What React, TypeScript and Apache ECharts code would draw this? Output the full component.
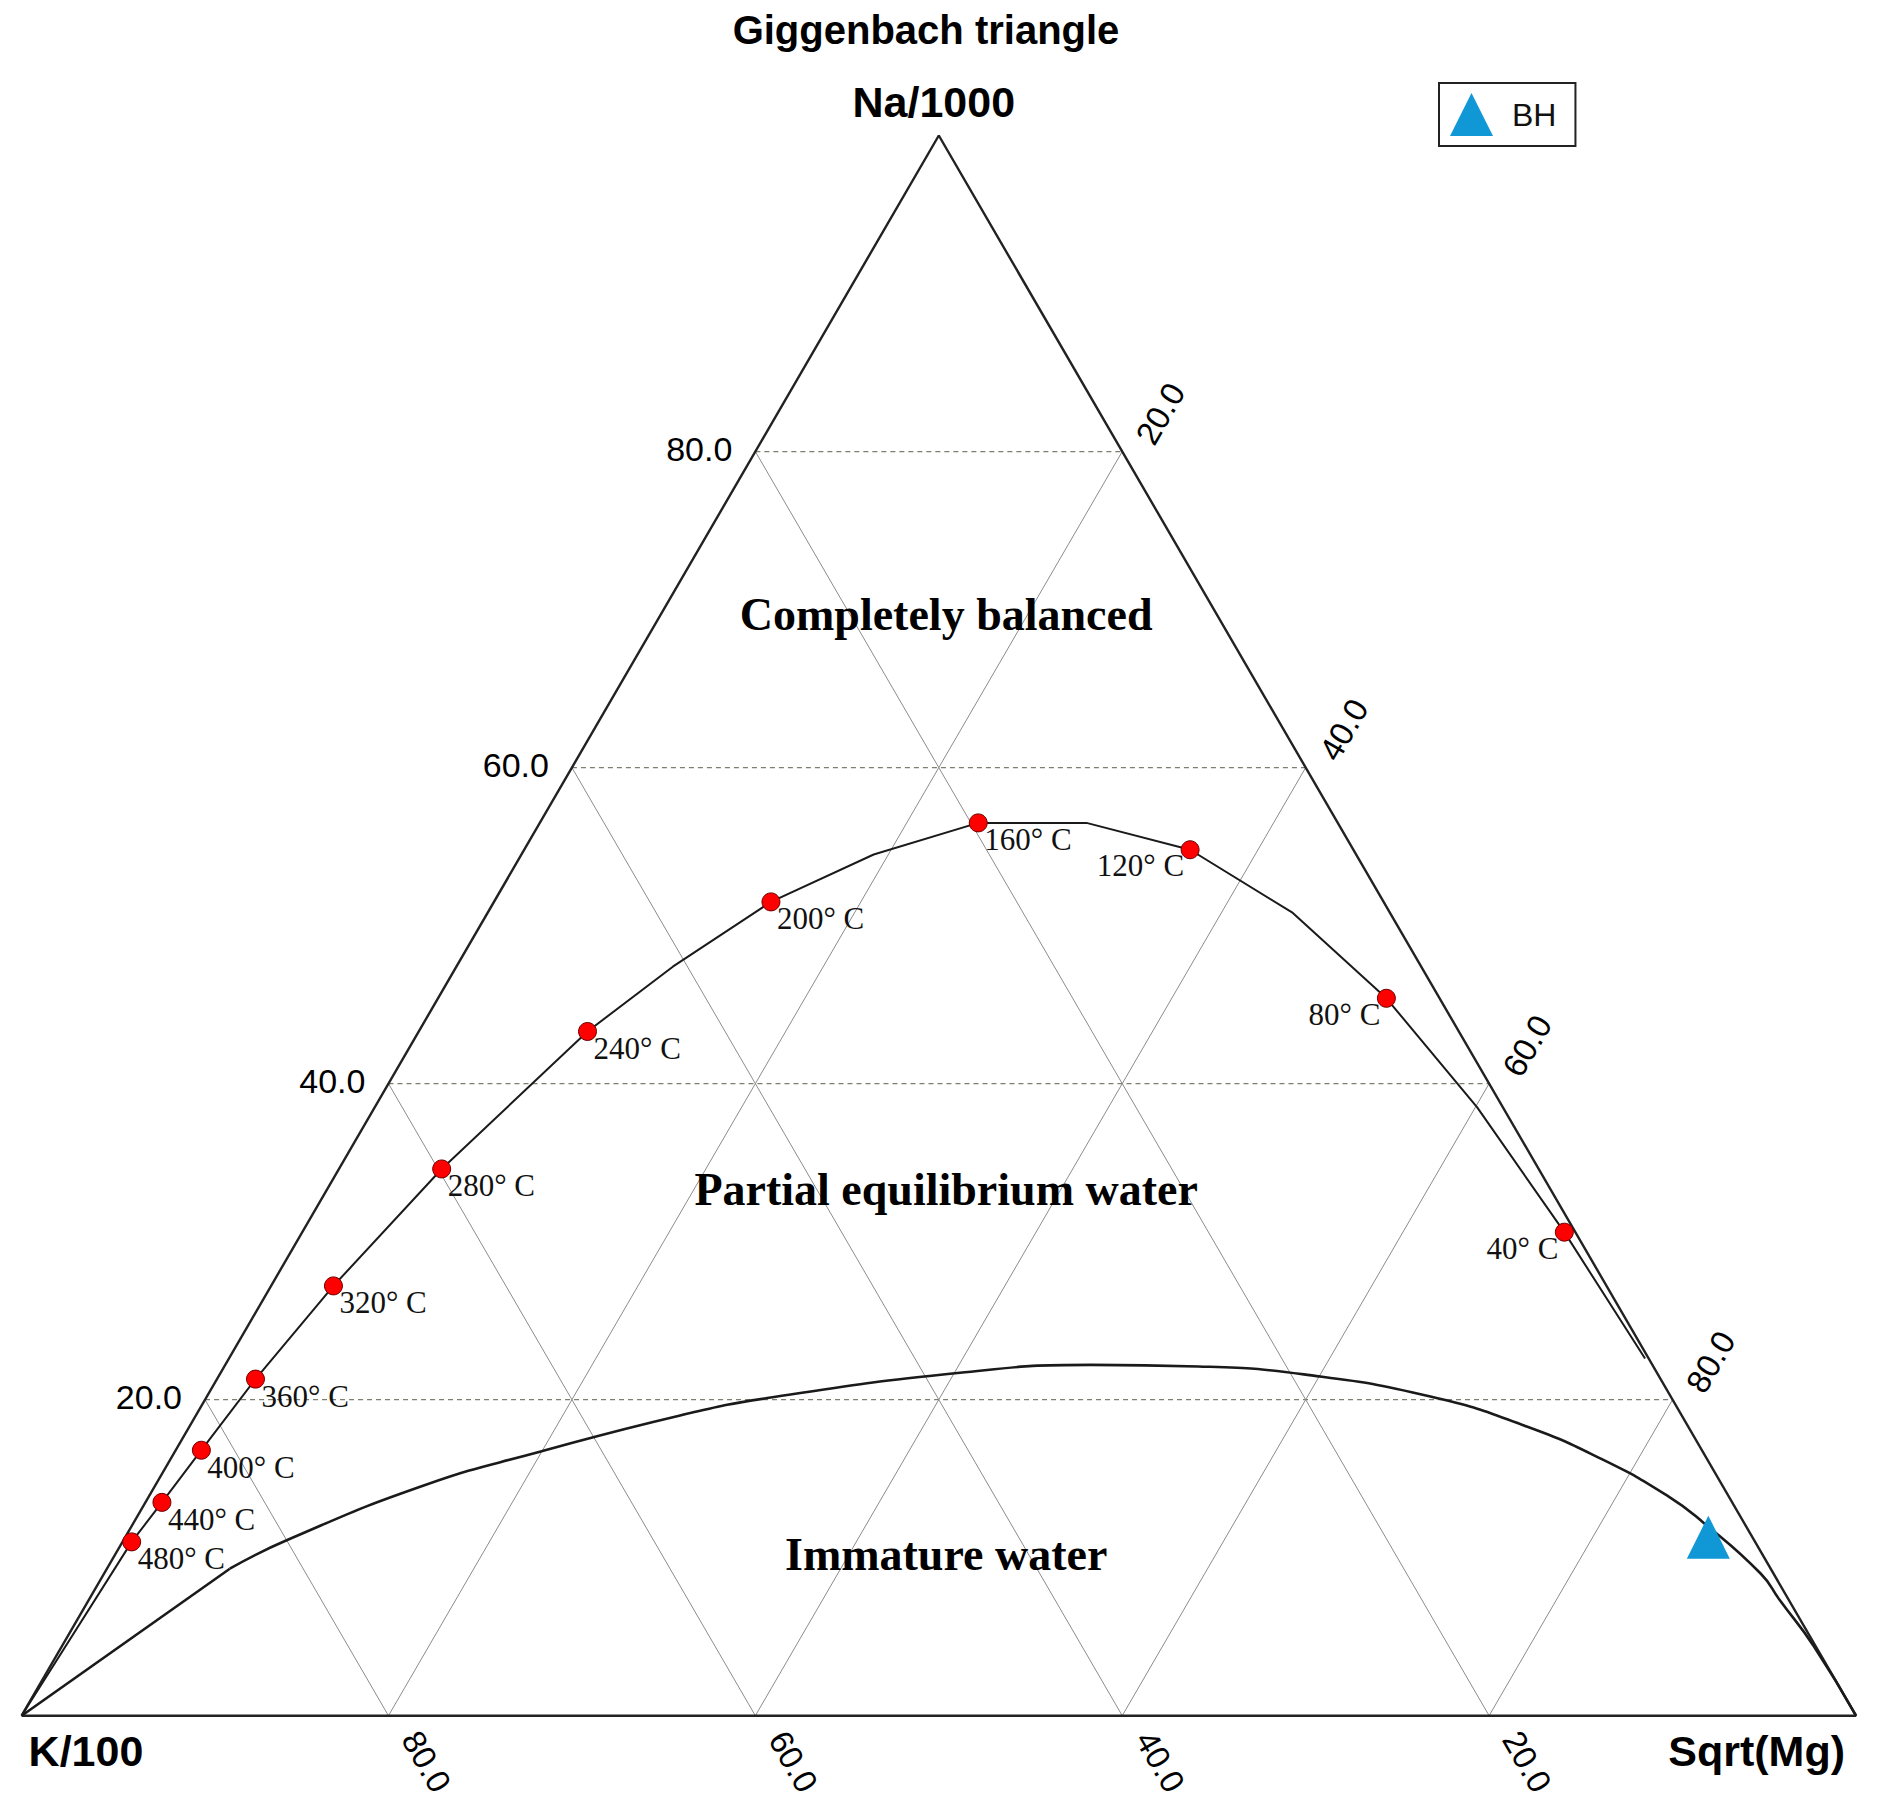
import React, { useEffect, useRef } from "react";
import * as echarts from "echarts";

// Ternary points are [Na/1000, K/100, Sqrt(Mg)] in percent
const triangleVertices: number[][] = [
  [0, 100, 0],
  [100, 0, 0],
  [0, 0, 100],
  [0, 100, 0],
];

const gridValues = [20, 40, 60, 80];
const tickLabels = ["20.0", "40.0", "60.0", "80.0"];

// full equilibrium line (with its bends)
const equilibriumCurve: number[][] = [
  [0, 100, 0],
  [11.0, 88.5, 0.5],
  [13.5, 85.6, 0.9],
  [16.8, 81.8, 1.4],
  [21.3, 76.6, 2.1],
  [27.2, 69.4, 3.4],
  [34.6, 59.8, 5.6],
  [43.3, 47.5, 9.2],
  [47.4, 40.8, 11.8],
  [51.5, 33.4, 15.1],
  [54.5, 26.3, 19.2],
  [56.5, 19.6, 23.9],
  [56.5, 13.7, 29.8],
  [54.8, 8.9, 36.3],
  [50.8, 5.3, 43.9],
  [45.4, 2.9, 51.7],
  [38.5, 1.4, 60.1],
  [30.6, 0.6, 68.8],
  [22.6, 0.2, 77.2],
];

const temperatureNames = [
  "480° C",
  "440° C",
  "400° C",
  "360° C",
  "320° C",
  "280° C",
  "240° C",
  "200° C",
  "160° C",
  "120° C",
  "80° C",
  "40° C",
];

const temperaturePoints: number[][] = [
  [11.0, 88.5, 0.5],
  [13.5, 85.6, 0.9],
  [16.8, 81.8, 1.4],
  [21.3, 76.6, 2.1],
  [27.2, 69.4, 3.4],
  [34.6, 59.8, 5.6],
  [43.3, 47.5, 9.2],
  [51.5, 33.4, 15.1],
  [56.5, 19.6, 23.9],
  [54.8, 8.9, 36.3],
  [45.4, 2.9, 51.7],
  [30.6, 0.6, 68.8],
];

// immature water boundary
const immatureStart: number[][] = [
  [0, 100, 0],
  [9.3, 84.0, 6.7],
];
const immatureCurve: number[][] = [
  [9.3, 84.0, 6.7],
  [11.1, 80.0, 8.9],
  [14.6, 70.7, 14.7],
  [16.7, 63.4, 19.9],
  [19.0, 54.6, 26.4],
  [20.1, 49.3, 30.6],
  [21.7, 38.0, 40.3],
  [22.2, 30.6, 47.2],
  [22.1, 24.8, 53.1],
  [21.6, 19.3, 59.1],
  [20.2, 13.1, 66.7],
  [18.3, 8.8, 72.9],
  [16.2, 5.7, 78.1],
  [13.9, 3.3, 82.8],
  [12.2, 2.2, 85.6],
  [9.0, 0.7, 90.3],
  [7.3, 0.5, 92.2],
  [4.4, 0.1, 95.5],
  [0, 0, 100],
];

const sampleNames = ["BH"];
const samplePoints: number[][] = [[11.3, 2.4, 86.3]];

const regionNames = ["Completely balanced", "Partial equilibrium water", "Immature water"];

const FONT_SANS = "Arial, 'Liberation Sans', Helvetica, sans-serif";
const FONT_SERIF = "'Times New Roman', 'Liberation Serif', serif";

function toXY(p: number[]): number[] {
  const [na, , mg] = p;
  return [mg + na / 2, na];
}

function lineSeries(points: number[][], lineStyle: any, z = 2, smooth: number | boolean = false) {
  return {
    type: "line",
    data: points.map(toXY),
    symbol: "none",
    showSymbol: false,
    silent: true,
    smooth,
    lineStyle,
    z,
    animation: false,
  };
}

export default function App() {
  const ref = useRef<HTMLDivElement>(null);

  useEffect(() => {
    document.body.style.margin = "0";
    const el = ref.current;
    if (!el) return;
    const chart = echarts.init(el, null, { renderer: "svg" });

    const series: any[] = [];
    gridValues.forEach((v) => {
      series.push(
        lineSeries(
          [
            [v, 100 - v, 0],
            [v, 0, 100 - v],
          ],
          { color: "#7d7d70", width: 1.2, type: [5, 4] },
          1
        )
      );
      series.push(
        lineSeries(
          [
            [100 - v, v, 0],
            [0, v, 100 - v],
          ],
          { color: "#8c8c8c", width: 1 },
          1
        )
      );
      series.push(
        lineSeries(
          [
            [100 - v, 0, v],
            [0, 100 - v, v],
          ],
          { color: "#8c8c8c", width: 1 },
          1
        )
      );
    });
    series.push(lineSeries(triangleVertices, { color: "#222", width: 2.4 }, 3));
    series.push(lineSeries(equilibriumCurve, { color: "#1a1a1a", width: 2 }, 4));
    series.push(lineSeries(immatureStart, { color: "#1a1a1a", width: 2.6 }, 4));
    series.push(lineSeries(immatureCurve, { color: "#1a1a1a", width: 2.6 }, 4, 0.5));

    const leftSide = new Set(["120° C", "80° C", "40° C"]);
    series.push({
      name: "temperature",
      type: "scatter",
      symbol: "circle",
      symbolSize: 18,
      z: 6,
      itemStyle: { color: "#ff0000", borderColor: "#6e0000", borderWidth: 1, opacity: 1 },
      label: {
        show: true,
        formatter: "{b}",
        position: "inside",
        verticalAlign: "middle",
        fontFamily: FONT_SERIF,
        fontSize: 31,
        color: "#111",
      },
      data: temperaturePoints.map((p, i) => {
        const name = temperatureNames[i];
        const isLeft = leftSide.has(name);
        return {
          name,
          value: toXY(p),
          label: isLeft ? { align: "right", offset: [-6, 16] } : { align: "left", offset: [6, 17] },
        };
      }),
      animation: false,
    });

    samplePoints.forEach((p, i) => {
      series.push({
        name: sampleNames[i],
        type: "scatter",
        symbol: "triangle",
        symbolSize: 43,
        z: 7,
        itemStyle: { color: "#0f97d6", opacity: 1 },
        data: [toXY(p)],
        animation: false,
      });
    });

    const option: any = {
      animation: false,
      backgroundColor: "#ffffff",
      title: {
        text: "Giggenbach triangle",
        left: 926,
        top: 30,
        textAlign: "center",
        textVerticalAlign: "middle",
        padding: 0,
        textStyle: { fontFamily: FONT_SANS, fontSize: 40, fontWeight: "bold", color: "#000" },
      },
      legend: {
        data: sampleNames,
        left: 1439,
        top: 83,
        icon: "triangle",
        itemWidth: 43,
        itemHeight: 43,
        borderColor: "#222",
        borderWidth: 2,
        padding: [10, 19, 10, 11],
        textStyle: { fontFamily: FONT_SANS, fontSize: 32, color: "#111", padding: [0, 0, 0, 14] },
      },
      grid: { left: 21.6, top: 135.5, width: 1834.4, height: 1580.2, containLabel: false },
      xAxis: { type: "value", min: 0, max: 100, show: false },
      yAxis: { type: "value", min: 0, max: 100, show: false },
      series,
    };
    chart.setOption(option);

    const pix = (p: number[]) => chart.convertToPixel({ gridIndex: 0 }, toXY(p)) as number[];
    const txt = (text: string, x: number, y: number, o: any) => ({
      type: "text",
      x,
      y,
      rotation: o.rotation || 0,
      z: 20,
      silent: true,
      style: {
        text,
        fill: o.fill || "#000",
        fontFamily: o.fontFamily || FONT_SANS,
        fontSize: o.fontSize,
        fontWeight: o.fontWeight || "normal",
        align: o.align || "left",
        textAlign: o.align || "left",
        verticalAlign: "middle",
        textVerticalAlign: "middle",
      },
    });

    const graphics: any[] = [];
    gridValues.forEach((v, i) => {
      const label = tickLabels[i];
      const l = pix([v, 100 - v, 0]);
      graphics.push(txt(label, l[0] - 23, l[1] - 3, { fontSize: 34, align: "right" }));
      const b = pix([0, v, 100 - v]);
      graphics.push(txt(label, b[0] + 22, b[1] + 18, { fontSize: 33, rotation: -Math.PI / 3 }));
      const r = pix([100 - v, 0, v]);
      graphics.push(txt(label, r[0] + 22, r[1] - 10, { fontSize: 33, rotation: Math.PI / 3 }));
    });

    const top = pix([100, 0, 0]);
    const bl = pix([0, 100, 0]);
    const br = pix([0, 0, 100]);
    graphics.push(txt("Na/1000", top[0] - 5, top[1] - 34, { fontSize: 43, fontWeight: "bold", align: "center" }));
    graphics.push(txt("K/100", bl[0] + 7, bl[1] + 35, { fontSize: 43, fontWeight: "bold", align: "left" }));
    graphics.push(txt("Sqrt(Mg)", br[0] - 11, br[1] + 35, { fontSize: 43, fontWeight: "bold", align: "right" }));

    const regionAnchors = [
      [69.7, 50.4],
      [33.3, 50.4],
      [10.2, 50.4],
    ];
    regionNames.forEach((name, i) => {
      const [ny, nx] = regionAnchors[i];
      const p = chart.convertToPixel({ gridIndex: 0 }, [nx, ny]) as number[];
      graphics.push(
        txt(name, p[0], p[1], { fontSize: 46, fontWeight: "bold", fontFamily: FONT_SERIF, align: "center" })
      );
    });

    chart.setOption({ graphic: graphics });

    return () => {
      chart.dispose();
    };
  }, []);

  return <div ref={ref} style={{ width: 1880, height: 1811 }} />;
}
